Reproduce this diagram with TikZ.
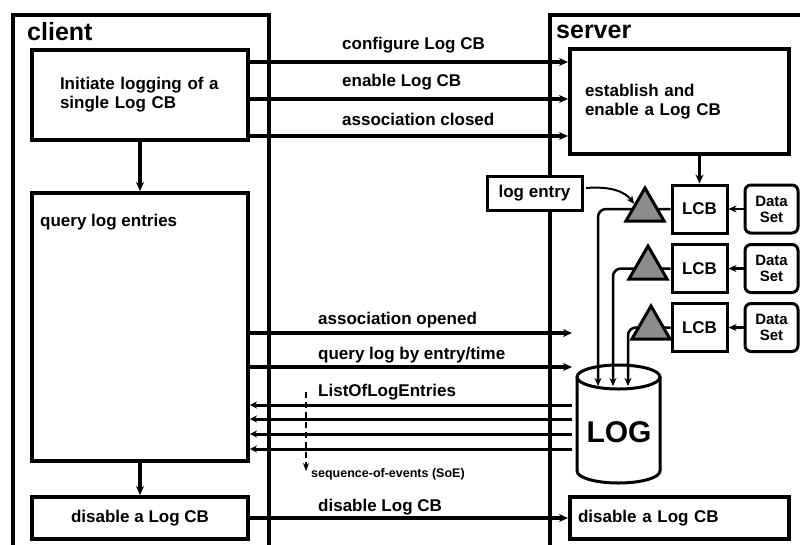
\documentclass[tikz,border=0pt]{standalone}
\usepackage{fontspec}
\setmainfont{Liberation Sans}
\usetikzlibrary{arrows.meta,shapes.geometric}
\begin{document}
\begin{tikzpicture}[x=1pt,y=-1pt,
  font=\bfseries\fontsize{17}{19}\selectfont,
  frame/.style={line width=4.5pt},
  box/.style={draw,line width=4pt,fill=white,inner sep=0pt,minimum width=216pt},
  sbox/.style={draw,line width=3pt,fill=white,inner sep=0pt,minimum width=55pt,minimum height=48pt},
  dbox/.style={sbox,rounded corners=6pt,minimum width=53pt,align=center,font=\bfseries\fontsize{15}{16}\selectfont},
  msg/.style={line width=3.5pt,-{Stealth[length=9pt,width=8pt]}},
  thinmsg/.style={line width=2.5pt,-{Stealth[length=8pt,width=7pt]}},
  retmsg/.style={line width=3pt,-{Stealth[length=7pt,width=7pt]}},
  lbl/.style={anchor=west,inner sep=0pt},
  biglbl/.style={lbl,font=\bfseries\fontsize{25}{25}\selectfont},
  tri/.style={regular polygon,regular polygon sides=3,draw,line width=3pt,fill=black!45,minimum size=44pt,inner sep=0pt},
  cyl/.style={line width=3pt,fill=white},
]
\useasboundingbox (0,0) rectangle (800,544);

% frames
\draw[frame] (13,560) -- (13,15) -- (269,15) -- (269,560);
\draw[frame] (550,560) -- (550,15) -- (820,15);
\node[biglbl] (clientlbl) at (27,32) {client};
\node[biglbl] (serverlbl) at (556,32) {server};

% client boxes
\node[box,minimum height=90pt,text width=160pt,align=left] (init) at (140,95) {Initiate logging of a\\single Log CB};
\node[box,minimum height=268pt] (query) at (140,327) {};
\node[lbl] (qlbl) at (40,222) {query log entries};
\node[box,minimum height=42pt] (cdis) at (140,518) {disable a Log CB};

% server boxes
\node[box,minimum width=219pt,minimum height=105pt,text width=189pt,align=left] (est) at (679.5,101.5) {establish and\\enable a Log CB};
\node[box,minimum width=219pt,minimum height=42pt,text width=203pt,align=left] (sdis) at (679.5,518) {disable a Log CB};
\node[sbox,minimum width=95pt,minimum height=34pt] (logentry) at (534.5,193) {log entry};

\node[sbox] (lcb1) at (699.5,209) {LCB};
\node[sbox] (lcb2) at (699.5,268.5) {LCB};
\node[sbox] (lcb3) at (699.5,327.5) {LCB};
\node[dbox] (ds1) at (771.5,209) {Data\\Set};
\node[dbox] (ds2) at (771.5,268.5) {Data\\Set};
\node[dbox] (ds3) at (771.5,327.5) {Data\\Set};

% LOG cylinder
\draw[cyl] (577,377) -- (577,471) arc[start angle=180,end angle=360,x radius=41.5pt,y radius=12pt] -- (660,377);
\draw[cyl] (618.5,377) ellipse[x radius=41.5pt,y radius=12pt];
\node[inner sep=0pt,font=\bfseries\fontsize{30}{30}\selectfont] (log) at (619,432) {LOG};

% coordinates
\coordinate (m1) at (0,62);
\coordinate (m2) at (0,99);
\coordinate (m3) at (0,136);
\coordinate (a1) at (0,333);
\coordinate (a2) at (0,367);
\coordinate (r1) at (0,405);
\coordinate (r2) at (0,419);
\coordinate (r3) at (0,434);
\coordinate (r4) at (0,449);
\coordinate (sx) at (572,0);
\coordinate (la1) at (598,386);
\coordinate (la2) at (613,386);
\coordinate (la3) at (628,386);
\coordinate (soeA) at (306,392);
\coordinate (soeB) at (306,471);

% client -> server messages
\draw[msg] (init.east |- m1) -- (est.west |- m1);
\draw[msg] (init.east |- m2) -- (est.west |- m2);
\draw[msg] (init.east |- m3) -- (est.west |- m3);
\node[lbl] (l1) at (342,45) {configure Log CB};
\node[lbl] (l2) at (342,82) {enable Log CB};
\node[lbl] (l3) at (342,119) {association closed};

\draw[msg] (query.east |- a1) -- (sx |- a1);
\draw[msg] (query.east |- a2) -- (sx |- a2);
\node[lbl] (l4) at (318,320) {association opened};
\node[lbl] (l5) at (318,355) {query log by entry/time};

\draw[retmsg] (sx |- r1) -- (query.east |- r1);
\draw[retmsg] (sx |- r2) -- (query.east |- r2);
\draw[retmsg] (sx |- r3) -- (query.east |- r3);
\draw[retmsg] (sx |- r4) -- (query.east |- r4);
\node[lbl] (l6) at (318,392) {ListOfLogEntries};

\draw[line width=2pt,dash pattern=on 6pt off 4pt,-{Stealth[length=8pt,width=6pt]}] (soeA) -- (soeB);
\node[lbl,font=\bfseries\fontsize{12.5}{13}\selectfont] (l7) at (311,474) {sequence-of-events (SoE)};

\draw[msg] (cdis.east) -- (sdis.west);
\node[lbl] (l8) at (318,507) {disable Log CB};

% vertical flow
\draw[msg] (init.south) -- (query.north);
\draw[msg] (query.south) -- (cdis.north);
\draw[msg] (lcb1.north |- est.south) -- (lcb1.north);

% data sets to LCBs
\draw[thinmsg] (ds1.west) -- (lcb1.east);
\draw[thinmsg] (ds2.west) -- (lcb2.east);
\draw[thinmsg] (ds3.west) -- (lcb3.east);

% LCB -> LOG via triggers
\draw[thinmsg,rounded corners=8pt] (lcb1.west) -| (la1);
\draw[thinmsg,rounded corners=8pt] (lcb2.west) -| (la2);
\draw[thinmsg,rounded corners=8pt] (lcb3.west) -| (la3);
\node[tri] (t1) at (645,210) {};
\node[tri] (t2) at (648,268) {};
\node[tri] (t3) at (651,328) {};

\draw[line width=2pt,-{Stealth[length=8pt,width=7pt]}] (586,188) .. controls (612,186) and (625,192) .. (t1.side 1);
\end{tikzpicture}
\end{document}
